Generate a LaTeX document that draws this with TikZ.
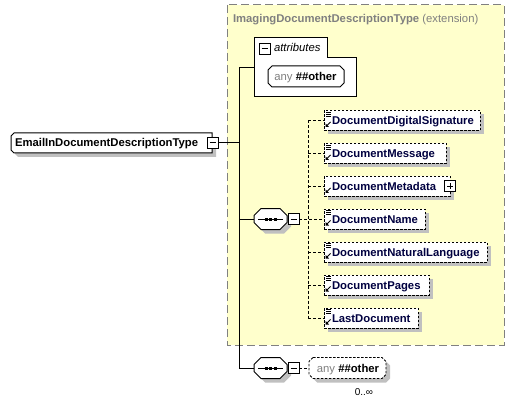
\documentclass[tikz,border=0pt]{standalone}
\usepackage{fontspec}
\setmainfont{Liberation Sans}
\usetikzlibrary{calc}
\pgfdeclarelayer{bg}
\pgfdeclarelayer{shd}
\pgfsetlayers{bg,shd,main}
\definecolor{ylw}{RGB}{255,255,204}
\definecolor{bgray}{RGB}{128,128,128}
\definecolor{shad}{RGB}{192,192,192}
\definecolor{navy}{RGB}{0,0,64}
\definecolor{tgray}{RGB}{128,128,128}
\newcommand\octo[5]{\draw[#5] ($(#1.north west)+(#2+#3,#4)$) -- ($(#1.north east)+(-#2+#3,#4)$) -- ($(#1.north east)+(#3,#2+#4)$) -- ($(#1.south east)+(#3,-#2+#4)$) -- ($(#1.south east)+(-#2+#3,#4)$) -- ($(#1.south west)+(#2+#3,#4)$) -- ($(#1.south west)+(#3,-#2+#4)$) -- ($(#1.north west)+(#3,#2+#4)$) -- cycle;}
\newcommand\lcham[5]{\draw[#5] ($(#1.north west)+(#2+#3,#4)$) -- ($(#1.north east)+(#3,#4)$) -- ($(#1.south east)+(#3,#4)$) -- ($(#1.south west)+(#2+#3,#4)$) -- ($(#1.south west)+(#3,-#2+#4)$) -- ($(#1.north west)+(#3,#2+#4)$) -- cycle;}
\newcommand\minusin[1]{\draw[line width=1pt] ($(#1.west)+(2.5,0)$) -- ($(#1.east)+(-2.5,0)$);}
\newcommand\plusin[1]{\minusin{#1}\draw[line width=1pt] ($(#1.north)+(0,2.5)$) -- ($(#1.south)+(0,-2.5)$);}
\newcommand\reficon[1]{\draw[line width=0.9pt] ($(#1.north west)+(3,15)$) -- ($(#1.north west)+(6.5,11.5)$);
  \fill ($(#1.north west)+(1.5,16.5)$) -- ($(#1.north west)+(5,16.5)$) -- ($(#1.north west)+(1.5,13)$) -- cycle;}
\newcommand\simpleicon[1]{\foreach \yy in {1.5,3.5,5.5}{\draw[line width=0.8pt] ($(#1.north west)+(2,\yy)$) -- ($(#1.north west)+(6.5,\yy)$);}}
\newcommand\xchild[4]{%
  \node[elbox, minimum width=#3] (#1) at (324,#2) {};
  \node[lbl, anchor=base west] (#1T) at (332,#2+4) {#4};
  \begin{pgfonlayer}{shd}\fill[shad] ($(#1.north west)+(4,4)$) rectangle ($(#1.south east)+(4,4)$);\end{pgfonlayer}
  \reficon{#1}}
\newcommand\seqicon[1]{\draw[line width=1pt] ($(#1.west)+(4,0)$) -- ($(#1.east)+(-4,0)$);
  \foreach \dx in {-4.5,0,4.5}{\fill ($(#1.center)+(\dx-1.5,-1.5)$) rectangle ($(#1.center)+(\dx+1.5,1.5)$);}}
\begin{document}
\begin{tikzpicture}[x=1pt,y=-1pt,
  every node/.style={inner sep=0pt, outer sep=0pt},
  lbl/.style={font=\fontsize{11.3}{13}\selectfont\bfseries, text=navy},
  elbox/.style={draw, fill=white, line width=0.9pt, dash pattern=on 2.5pt off 1.5pt, minimum height=20, anchor=west},
  pm/.style={draw, fill=white, minimum size=11, line width=1pt},
  conn/.style={line width=1pt},
  dconn/.style={line width=1pt, dash pattern=on 3pt off 2pt},
  ghost/.style={draw=none}]
\useasboundingbox (0,0) rectangle (529,403);
% extension area
\begin{pgfonlayer}{bg}
\filldraw[fill=ylw, draw=bgray, line width=1pt, dash pattern=on 8pt off 4pt] (227,5) rectangle (504,345);
\end{pgfonlayer}
\node[anchor=base west, font=\fontsize{11.3}{13}\selectfont, text=tgray] (title) at (233,23) {\textbf{ImagingDocumentDescriptionType} (extension)};
% attributes box
\node[ghost, minimum width=102, minimum height=59, anchor=north west] (attr) at (254,38) {};
\filldraw[fill=white, draw=black, line width=1pt] (254,38) -- (327,38) -- (327,58) -- (356,58) -- (356,97) -- (254,97) -- cycle;
\node[pm] (mattr) at (264.5,49) {};
\minusin{mattr}
\node[anchor=base west, font=\fontsize{11.3}{13}\selectfont\itshape] (attrT) at (274,52) {attributes};
\node[ghost, minimum width=76, minimum height=21] (anyattr) at (306,76.5) {};
\begin{pgfonlayer}{shd}\octo{anyattr}{4}{3}{3}{fill=shad, draw=none}\end{pgfonlayer}
\octo{anyattr}{4}{0}{0}{fill=white, draw=black, line width=1pt}
\node[anchor=base, font=\fontsize{11.3}{13}\selectfont] (anyattrT) at (305.5,80.5) {\textcolor{tgray}{any} \textbf{\#\#other}};
% main element
\node[ghost, minimum width=201, minimum height=20] (main) at (111.5,143) {};
\begin{pgfonlayer}{shd}\lcham{main}{3}{4}{4}{fill=shad, draw=none}\end{pgfonlayer}
\lcham{main}{3}{0}{0}{fill=white, draw=black, line width=1pt}
\node[lbl, text=black, anchor=base west] (mainT) at (15,147) {EmailInDocumentDescriptionType};
\node[pm] (mm) at (212.5,143) {};
\minusin{mm}
% sequences
\node[ghost, minimum width=33, minimum height=21] (seq1) at (270.5,219) {};
\begin{pgfonlayer}{shd}\octo{seq1}{7}{4}{4}{fill=shad, draw=none}\end{pgfonlayer}
\octo{seq1}{7}{0}{0}{fill=white, draw=black, line width=1pt}
\seqicon{seq1}
\node[pm] (mseq1) at (293.5,219) {};
\minusin{mseq1}
\node[ghost, minimum width=33, minimum height=21] (seq2) at (270.5,368) {};
\begin{pgfonlayer}{shd}\octo{seq2}{7}{4}{4}{fill=shad, draw=none}\end{pgfonlayer}
\octo{seq2}{7}{0}{0}{fill=white, draw=black, line width=1pt}
\seqicon{seq2}
\node[pm] (mseq2) at (293.5,368) {};
\minusin{mseq2}
% trunk
\coordinate (tk) at (239,0);
\coordinate (dt) at (308,0);
\draw[conn] (mm.east) -- (mm.east -| tk);
\draw[conn] (attr.west) -- (attr.west -| tk) -- (seq2.west -| tk) -- (seq2.west);
\draw[conn] (seq1.west) -- (seq1.west -| tk);
% children
\xchild{dds}{120.5}{156}{DocumentDigitalSignature}
\xchild{dmsg}{153.5}{122}{DocumentMessage}
\xchild{dmeta}{186.5}{126}{DocumentMetadata}
\xchild{dname}{219}{101}{DocumentName}
\xchild{dnl}{252}{163}{DocumentNaturalLanguage}
\xchild{dpages}{285}{105}{DocumentPages}
\xchild{ldoc}{318}{94}{LastDocument}
\simpleicon{dds}\simpleicon{dmsg}\simpleicon{dname}\simpleicon{dnl}\simpleicon{dpages}\simpleicon{ldoc}
\node[pm] (pmeta) at (dmeta.east) {};
\plusin{pmeta}
\draw[dconn] (dds.west -| dt) -- (ldoc.west -| dt);
\draw[dconn] (mseq1.east) -- (dname.west);
\foreach \c in {dds,dmsg,dmeta,dnl,dpages,ldoc}{\draw[dconn] (\c.west -| dt) -- (\c.west);}
% any other wildcard
\node[ghost, minimum width=77, minimum height=21] (anyb) at (347.5,368) {};
\begin{pgfonlayer}{shd}\octo{anyb}{4}{4}{4}{fill=shad, draw=none}\end{pgfonlayer}
\octo{anyb}{4}{0}{0}{fill=white, draw=black, line width=0.9pt, dash pattern=on 2.5pt off 1.5pt}
\node[anchor=base, font=\fontsize{11.3}{13}\selectfont] (anybT) at (348,372) {\textcolor{tgray}{any} \textbf{\#\#other}};
\draw[dconn] (mseq2.east) -- (anyb.west);
\node[anchor=base east, font=\fontsize{10}{12}\selectfont] (occ) at (373,395) {0..∞};
\end{tikzpicture}
\end{document}
